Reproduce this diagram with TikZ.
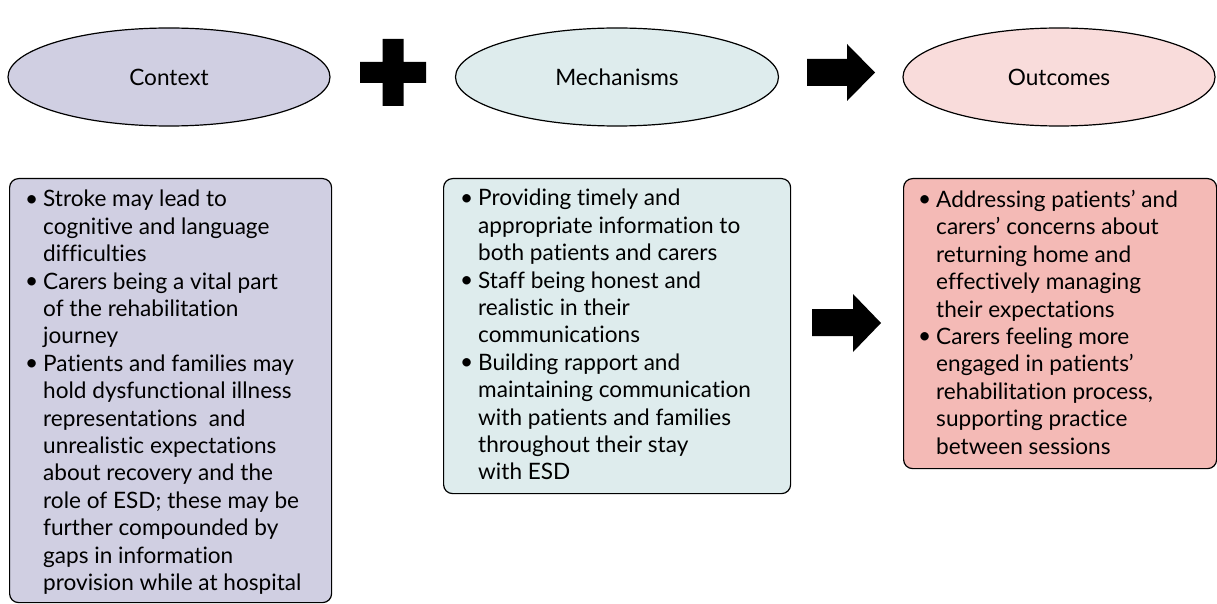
\documentclass[tikz,border=0pt]{standalone}
\usepackage{fontspec}
\setmainfont{Lato}[Ligatures=NoCommon]
\usetikzlibrary{shapes.geometric}
\definecolor{ctxfill}{HTML}{D0CFE2}
\definecolor{mecfill}{HTML}{DEECED}
\definecolor{outell}{HTML}{F9DCDB}
\definecolor{outbox}{HTML}{F4BAB6}
\newcommand{\bul}{\makebox[18pt][l]{\raisebox{0.5pt}{\textbullet}}}
\newcommand{\ind}{\hspace*{18pt}}
\tikzset{
  x=1pt, y=1pt,
  oval/.style={ellipse, draw=black, line width=1.2pt, inner sep=0pt, font=\fontsize{22.6}{27.4}\selectfont},
  panel/.style={draw=black, line width=1.2pt, rounded corners=9pt, inner sep=0pt, anchor=north west},
  ptext/.style={anchor=north west, inner sep=0pt, align=left, font=\fontsize{22.6}{27.4}\selectfont},
  shapefill/.style={fill=black, draw=none}
}
\begin{document}
\begin{tikzpicture}
\useasboundingbox (0,0) rectangle (1217,-604);
% ellipses
\node[oval, fill=ctxfill, minimum width=322, minimum height=98] (ctx) at (169,-77) {Context};
\node[oval, fill=mecfill, minimum width=323, minimum height=98] (mec) at (617,-77) {Mechanisms};
\node[oval, fill=outell, minimum width=312, minimum height=98] (out) at (1059,-77) {Outcomes};
% plus
\fill[shapefill] (382.5,-39) -- (403.5,-39) -- (403.5,-62) -- (426,-62) -- (426,-83) -- (403.5,-83) -- (403.5,-106) -- (382.5,-106) -- (382.5,-83) -- (360,-83) -- (360,-62) -- (382.5,-62) -- cycle;
% top arrow
\fill[shapefill] (807,-59) -- (847,-59) -- (847,-44) -- (875,-72.5) -- (847,-101) -- (847,-86) -- (807,-86) -- cycle;
% middle arrow
\fill[shapefill] (812,-309) -- (853,-309) -- (853,-294) -- (881,-323) -- (853,-352) -- (853,-336) -- (812,-336) -- cycle;
% panels
\node[panel, fill=ctxfill, minimum width=322, minimum height=424] (ctxbox) at (9,-178) {};
\node[panel, fill=mecfill, minimum width=347, minimum height=315] (mecbox) at (443,-178) {};
\node[panel, fill=outbox, minimum width=313, minimum height=290] (outbox) at (903,-178) {};
% texts
\node[ptext] (ctxtext) at (25,-190) {%
\bul Stroke may lead to\\
\ind cognitive and language\\
\ind difficulties\\
\bul Carers being a vital part\\
\ind of the rehabilitation\\
\ind journey\\
\bul Patients and families may\\
\ind hold dysfunctional illness\\
\ind representations\ \ and\\
\ind unrealistic expectations\\
\ind about recovery and the\\
\ind role of ESD; these may be\\
\ind further compounded by\\
\ind gaps in information\\
\ind provision while at hospital};
\node[ptext] (mectext) at (460,-189) {%
\bul Providing timely and\\
\ind appropriate information to\\
\ind both patients and carers\\
\bul Staff being honest and\\
\ind realistic in their\\
\ind communications\\
\bul Building rapport and\\
\ind maintaining communication\\
\ind with patients and families\\
\ind throughout their stay\\
\ind with ESD};
\node[ptext] (outtext) at (918,-190) {%
\bul Addressing patients’ and\\
\ind carers’ concerns about\\
\ind returning home and\\
\ind effectively managing\\
\ind their expectations\\
\bul Carers feeling more\\
\ind engaged in patients’\\
\ind rehabilitation process,\\
\ind supporting practice\\
\ind between sessions};
\end{tikzpicture}
\end{document}
